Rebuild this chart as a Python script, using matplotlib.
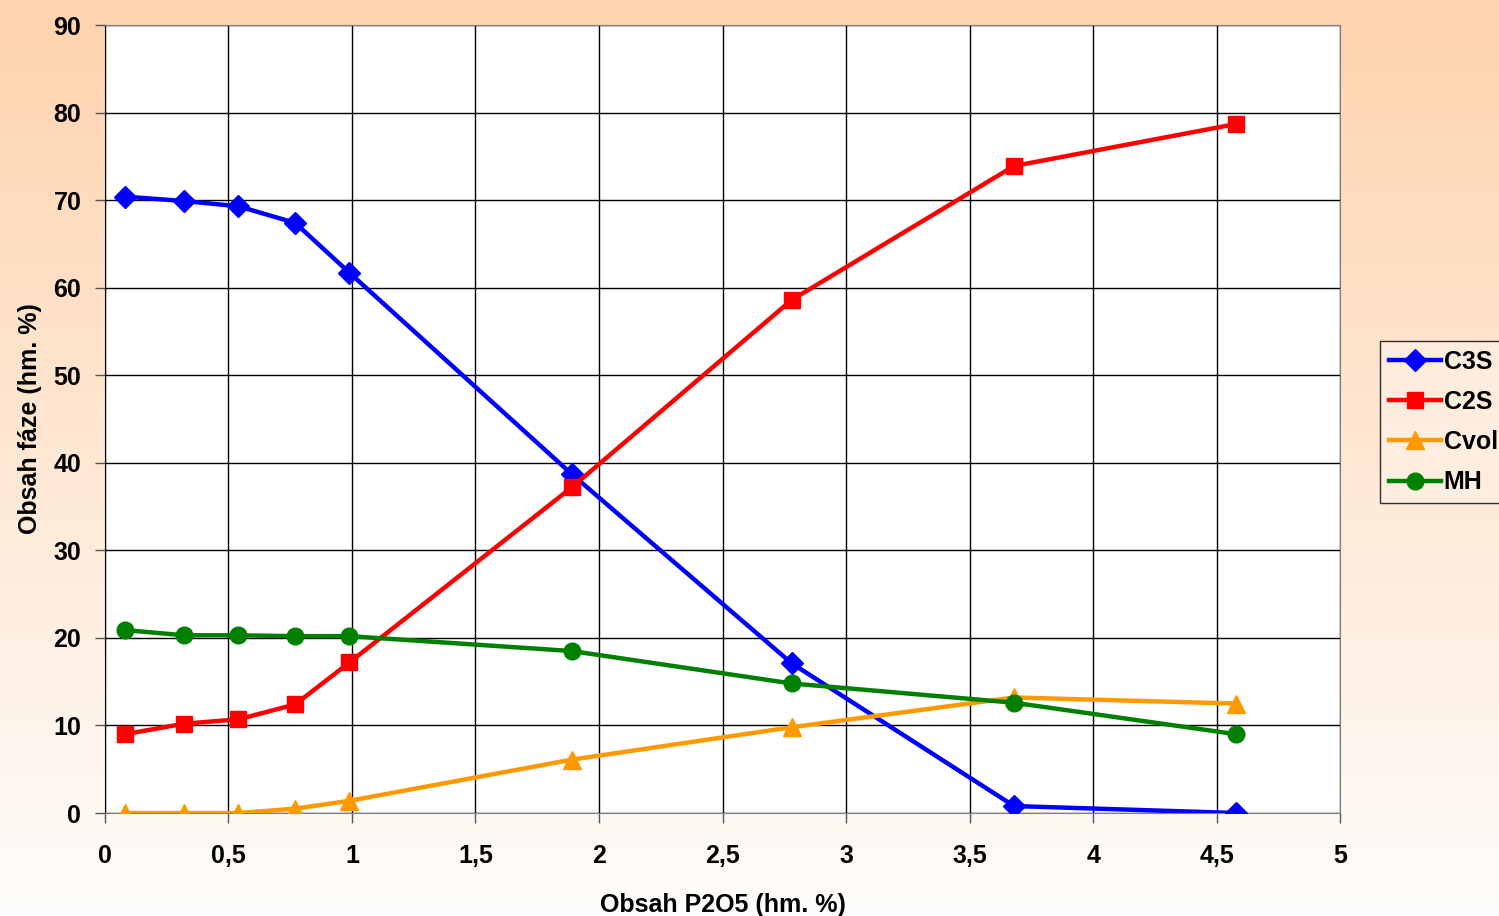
import numpy as np
import matplotlib
matplotlib.use("Agg")
import matplotlib.pyplot as plt

plt.rcParams['font.family'] = ['Liberation Sans', 'DejaVu Sans']
plt.rcParams['font.weight'] = 'bold'

# obsah P2O5 v hm. %
p2o5 = [0.08, 0.32, 0.54, 0.77, 0.99, 1.89, 2.78, 3.68, 4.58]
c3s = [70.4, 69.9, 69.3, 67.4, 61.7, 38.7, 17.1, 0.8, 0.0]
c2s = [9.0, 10.2, 10.7, 12.4, 17.2, 37.2, 58.6, 73.9, 78.7]
cvol = [0.0, 0.0, 0.0, 0.5, 1.4, 6.1, 9.8, 13.2, 12.5]
mh = [20.9, 20.3, 20.3, 20.2, 20.2, 18.5, 14.8, 12.6, 9.0]

x_ticks = [0, 0.5, 1, 1.5, 2, 2.5, 3, 3.5, 4, 4.5, 5]
x_ticklabels = ['0', '0,5', '1', '1,5', '2', '2,5', '3', '3,5', '4', '4,5', '5']
y_ticks = [0, 10, 20, 30, 40, 50, 60, 70, 80, 90]

fig = plt.figure(figsize=(14.99, 9.16), dpi=100)

# peach-to-white vertical gradient behind everything
bg = fig.add_axes([0, 0, 1, 1], zorder=-10)
top = np.array([255, 211, 173]) / 255
bottom = np.array([254, 253, 251]) / 255
t = np.linspace(0, 1, 256)[:, None]
grad = top * (1 - t) + bottom * t
bg.imshow(grad[:, None, :].repeat(2, axis=1), aspect='auto', extent=[0, 1, 0, 1])
bg.axis('off')

ax = fig.add_axes([0.070, 0.1124, 0.824, 0.8603])
ax.set_facecolor('white')

ax.plot(p2o5, c3s, color='#0000FF', lw=3.2, marker='D', ms=11, label='C3S', zorder=5)
ax.plot(p2o5, c2s, color='#FF0000', lw=3.2, marker='s', ms=11, label='C2S', zorder=5)
ax.plot(p2o5, cvol, color='#FF9900', lw=3.2, marker='^', ms=13, label='Cvol', zorder=5)
ax.plot(p2o5, mh, color='#008000', lw=3.2, marker='o', ms=12, label='MH', zorder=5)

ax.set_xlim(0, 5)
ax.set_ylim(0, 90)
ax.set_xticks(x_ticks)
ax.set_xticklabels(x_ticklabels)
ax.set_yticks(y_ticks)
ax.grid(True, color='black', lw=1)
ax.set_axisbelow(True)
ax.tick_params(labelsize=18, length=7, width=1, colors='#555555', labelcolor='black')
ax.tick_params(axis='x', pad=15)
ax.tick_params(axis='y', pad=10)
for lab in ax.get_xticklabels() + ax.get_yticklabels():
    lab.set_fontweight('bold')
for side in ['top', 'right', 'bottom']:
    ax.spines[side].set_color('#808080')
ax.spines['left'].set_color('black')

ax.set_xlabel('Obsah P2O5 (hm. %)', fontsize=18, fontweight='bold', labelpad=18)
ax.set_ylabel('Obsah fáze (hm. %)', fontsize=18, fontweight='bold', labelpad=8)

leg = fig.legend(loc='upper left', bbox_to_anchor=(0.9206, 0.628), frameon=True,
                 fancybox=False, prop={'size': 18, 'weight': 'bold'},
                 handlelength=2.1, handletextpad=0.1, borderpad=0.35,
                 labelspacing=0.65, borderaxespad=0)
leg.get_frame().set_edgecolor('black')
leg.get_frame().set_facecolor('#FFF0E4')
leg.get_frame().set_linewidth(1)

fig.savefig('out.png', dpi=100)
